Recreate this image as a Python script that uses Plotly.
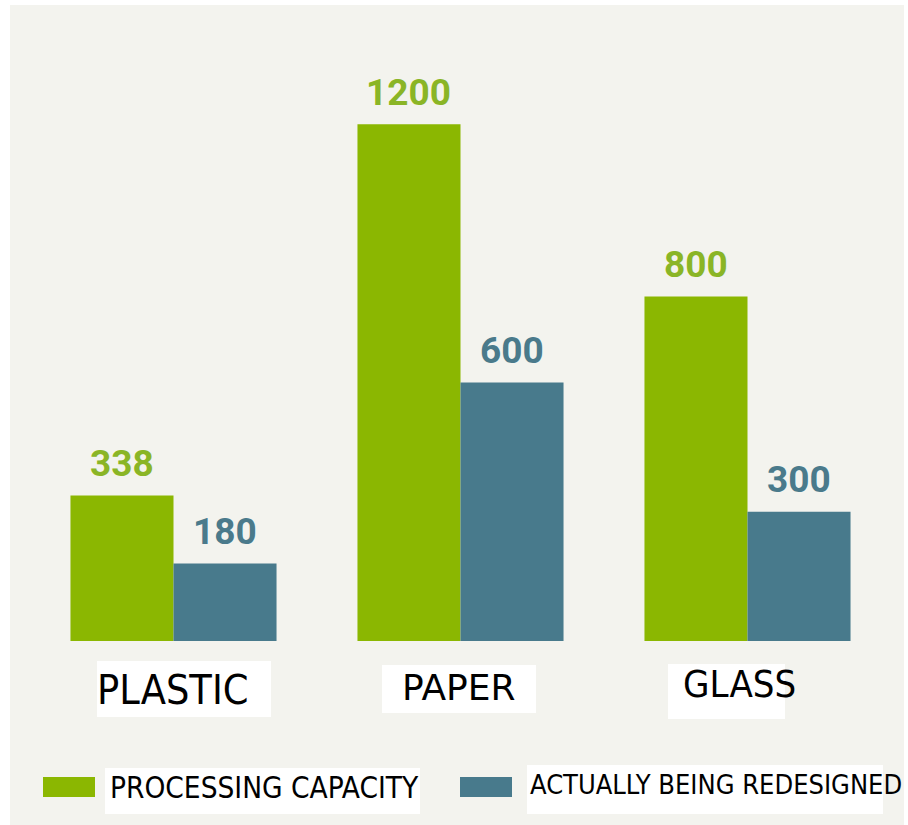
import plotly.graph_objects as go

categories = ["PLASTIC", "PAPER", "GLASS"]
processing_capacity = [338, 1200, 800]
redesigned = [180, 600, 300]
series_names = ["PROCESSING CAPACITY", "ACTUALLY BEING REDESIGNED"]

GREEN = "#8BB701"
TEAL = "#487A8C"
GREEN_TXT = "#8AB526"
TEAL_TXT = "#4A7A8B"
BG = "#F3F3EE"

W, H = 908, 825
L, R, T, B = 30, 17, 38, 184
PW, PH = W - L - R, H - T - B
BARGAP = 0.282


def px(x):
    return (x - L) / PW


def py(y):
    return (H - B - y) / PH


fig = go.Figure()
fig.add_trace(go.Bar(x=categories, y=processing_capacity, name=series_names[0],
                     marker=dict(color=GREEN, line=dict(width=0)), showlegend=False))
fig.add_trace(go.Bar(x=categories, y=redesigned, name=series_names[1],
                     marker=dict(color=TEAL, line=dict(width=0)), showlegend=False))

shapes = []
annotations = []

# background panel
shapes.append(dict(type="rect", xref="paper", yref="paper", x0=px(10), x1=px(904),
                   y0=py(825), y1=py(5), fillcolor=BG, line=dict(width=0), layer="below"))

# value labels
half = (1 - BARGAP) / 2 * PW / 3 / 2
for series, color, sign in [(processing_capacity, GREEN_TXT, -1), (redesigned, TEAL_TXT, 1)]:
    for c, v in zip(categories, series):
        annotations.append(dict(x=c, y=v, xref="x", yref="y", text=f"<b>{v}</b>",
                                showarrow=False, xanchor="center", yanchor="middle",
                                xshift=sign * half, yshift=32,
                                font=dict(family="Roboto", size=37, color=color)))

# category labels in white boxes
cat_boxes = [(97, 271, 661, 717), (382, 536, 665, 713), (668, 785, 664, 719)]
cat_text = [(95, 690, 41, "DejaVu Sans Condensed, DejaVu Sans"),
            (400, 687.5, 36, "DejaVu Sans"),
            (681, 684, 38, "DejaVu Sans Condensed, DejaVu Sans")]
for c, (x0, x1, y0, y1), (tx, ty, fs, fam) in zip(categories, cat_boxes, cat_text):
    shapes.append(dict(type="rect", xref="paper", yref="paper", x0=px(x0), x1=px(x1),
                       y0=py(y1), y1=py(y0), fillcolor="white", line=dict(width=0)))
    annotations.append(dict(x=px(tx), y=py(ty), xref="paper", yref="paper", text=c,
                            showarrow=False, xanchor="left", yanchor="middle",
                            font=dict(family=fam, size=fs, color="black")))

# legend
leg = [
    (GREEN, (43, 95, 777, 797), (105, 420, 768, 814), (108, 787.5, 29.5)),
    (TEAL, (460, 512, 777, 797), (527, 883, 765, 814), (528, 784, 27)),
]
for name, (col, sw, box, (tx, ty, fs)) in zip(series_names, leg):
    shapes.append(dict(type="rect", xref="paper", yref="paper", x0=px(sw[0]), x1=px(sw[1]),
                       y0=py(sw[3]), y1=py(sw[2]), fillcolor=col, line=dict(width=0)))
    shapes.append(dict(type="rect", xref="paper", yref="paper", x0=px(box[0]), x1=px(box[1]),
                       y0=py(box[3]), y1=py(box[2]), fillcolor="white", line=dict(width=0)))
    annotations.append(dict(x=px(tx), y=py(ty), xref="paper", yref="paper", text=name,
                            showarrow=False, xanchor="left", yanchor="middle",
                            font=dict(family="DejaVu Sans Condensed, DejaVu Sans", size=fs,
                                      color="black")))

fig.update_layout(
    width=W, height=H,
    margin=dict(l=L, r=R, t=T, b=B, pad=0),
    paper_bgcolor="white",
    plot_bgcolor="rgba(0,0,0,0)",
    barmode="group",
    bargap=BARGAP,
    bargroupgap=0,
    xaxis=dict(visible=False, range=[-0.5, 2.5]),
    yaxis=dict(visible=False, range=[0, 1400]),
    shapes=shapes,
    annotations=annotations,
)

fig.write_html("out.html")
